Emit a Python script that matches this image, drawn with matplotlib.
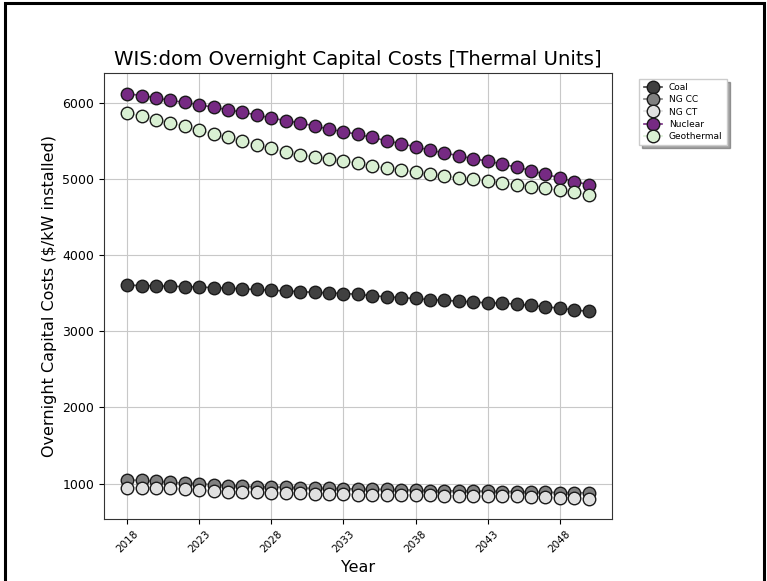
import matplotlib
matplotlib.use("Agg")
import matplotlib.pyplot as plt
from matplotlib.patches import Rectangle

years = list(range(2018, 2051))

coal = [3605, 3600, 3595, 3590, 3585, 3580, 3572, 3565, 3555, 3548, 3538,
        3528, 3520, 3510, 3502, 3495, 3485, 3465, 3452, 3440, 3430, 3415,
        3405, 3395, 3382, 3373, 3367, 3355, 3338, 3320, 3303, 3280, 3260]
ng_cc = [1046, 1041, 1028, 1014, 1005, 995, 986, 972, 963, 959, 954, 950,
         940, 936, 936, 931, 927, 922, 922, 917, 913, 908, 904, 904, 899,
         899, 895, 895, 890, 885, 881, 881, 876]
ng_ct = [945, 945, 940, 935, 925, 910, 905, 895, 890, 885, 880, 875, 870,
         865, 865, 860, 855, 855, 850, 850, 845, 845, 840, 840, 835, 835,
         830, 830, 825, 820, 815, 810, 800]
nuclear = [6120, 6095, 6065, 6030, 6005, 5975, 5940, 5910, 5875, 5840, 5800,
           5765, 5735, 5695, 5655, 5620, 5585, 5545, 5500, 5465, 5420, 5380,
           5340, 5305, 5265, 5235, 5195, 5155, 5110, 5060, 5015, 4965, 4925]
geothermal = [5870, 5825, 5780, 5740, 5690, 5640, 5590, 5545, 5495, 5450,
              5400, 5355, 5320, 5290, 5265, 5235, 5210, 5170, 5140, 5120,
              5090, 5065, 5040, 5015, 4995, 4975, 4950, 4925, 4900, 4875,
              4850, 4825, 4795]

series = [
    ("Coal", coal, "#404040"),
    ("NG CC", ng_cc, "#808080"),
    ("NG CT", ng_ct, "#e0e0e0"),
    ("Nuclear", nuclear, "#762a83"),
    ("Geothermal", geothermal, "#d9f0d3"),
]

xtick_years = [2018, 2023, 2028, 2033, 2038, 2043, 2048]

fig = plt.figure(figsize=(7.67, 5.81), dpi=100)
ax = fig.add_axes([0.1356, 0.1067, 0.662, 0.767])

for name, vals, color in series:
    ax.plot(years, vals, marker="o", markersize=9.0, color=color,
            markerfacecolor=color, markeredgecolor="#1a1a1a",
            markeredgewidth=1.0, linewidth=1.2, label=name)

ax.set_xticks(xtick_years)
ax.set_xticklabels([str(y) for y in xtick_years], rotation=45, fontsize=7.5)
ax.set_yticks([1000, 2000, 3000, 4000, 5000, 6000])
ax.tick_params(axis="y", labelsize=9)
ax.grid(True, color="#c8c8c8", linewidth=0.8)
ax.set_axisbelow(True)
for s in ax.spines.values():
    s.set_color("#333333")

ax.set_title("WIS:dom Overnight Capital Costs [Thermal Units]", fontsize=14.2)
ax.set_xlabel("Year", fontsize=11.5)
ax.set_ylabel("Overnight Capital Costs ($/kW installed)", fontsize=11.5)

ax.legend(loc="upper left", bbox_to_anchor=(1.045, 0.998), fontsize=6.5,
          shadow=True, fancybox=False, framealpha=1, borderpad=0.5,
          handlelength=2.0, labelspacing=0.35, markerscale=1.0)

fig.patches.append(Rectangle((0.0065, -0.05), 0.9895, 1.045,
                             transform=fig.transFigure, fill=False,
                             edgecolor="black", linewidth=2.2))

fig.savefig("out.png", dpi=100)
